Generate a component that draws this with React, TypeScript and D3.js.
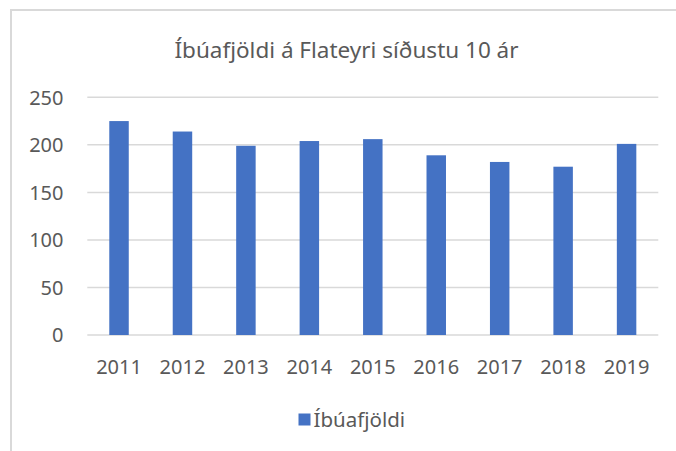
import React from "react";
import * as d3 from "d3";

const title = "Íbúafjöldi á Flateyri síðustu 10 ár";
const seriesName = "Íbúafjöldi";
const years = ["2011", "2012", "2013", "2014", "2015", "2016", "2017", "2018", "2019"];
const population = [225, 214, 199, 204, 206, 189, 182, 177, 201];
const yTicks = [0, 50, 100, 150, 200, 250];

const W = 676;
const H = 451;
const FONT = "'Noto Sans', 'Open Sans', sans-serif";
const TEXT = "#595959";
const GRID = "#d9d9d9";
const BAR = "#4472c4";

export default function App() {
  const x = d3
    .scaleBand<string>()
    .domain(years)
    .range([87.3, 658.3])
    .paddingInner(0.693)
    .paddingOuter(0.3465);
  const y = d3.scaleLinear().domain([0, 250]).range([335, 97.3]);

  return (
    <svg
      width={W}
      height={H}
      viewBox={`0 0 ${W} ${H}`}
      style={{ position: "absolute", left: 0, top: 0, display: "block", background: "#fff" }}
    >
      <rect x={0} y={0} width={W} height={H} fill="#fff" />
      <rect x={11} y={10} width={W + 20} height={H + 20} fill="none" stroke={GRID} strokeWidth={2} />
      <text x={346.5} y={57.5} textAnchor="middle" fontFamily={FONT} fontSize={22.5} fill={TEXT}>
        {title}
      </text>
      {yTicks.map((t) => (
        <g key={t}>
          <line x1={87.3} x2={658.3} y1={y(t)} y2={y(t)} stroke={GRID} strokeWidth={1.5} />
          <text
            x={63.5}
            y={y(t)}
            dy="0.36em"
            textAnchor="end"
            fontFamily={FONT}
            fontSize={20}
            fill={TEXT}
          >
            {t}
          </text>
        </g>
      ))}
      {years.map((yr, i) => (
        <rect
          key={yr}
          x={x(yr)}
          y={y(population[i])}
          width={x.bandwidth()}
          height={y(0) - y(population[i])}
          fill={BAR}
        />
      ))}
      {years.map((yr) => (
        <text
          key={yr}
          x={(x(yr) as number) + x.bandwidth() / 2}
          y={373.5}
          textAnchor="middle"
          fontFamily={FONT}
          fontSize={20}
          fill={TEXT}
        >
          {yr}
        </text>
      ))}
      <rect x={298.5} y={413.5} width={12} height={12} fill={BAR} />
      <text x={313.5} y={426.5} fontFamily={FONT} fontSize={20.5} fill={TEXT}>
        {seriesName}
      </text>
    </svg>
  );
}
